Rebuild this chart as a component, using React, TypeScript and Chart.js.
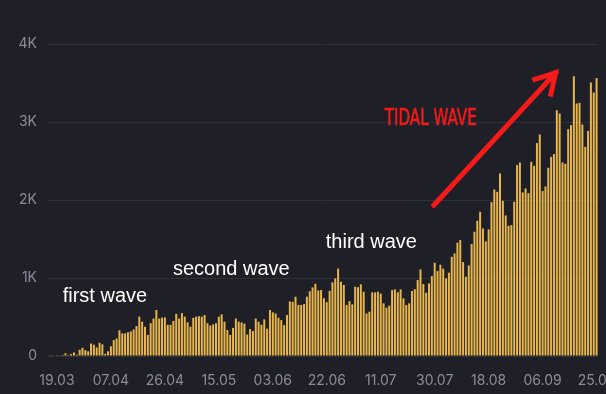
import React, { useEffect, useRef } from 'react';
import { Chart, registerables } from 'chart.js';

Chart.register(...registerables);

// ---------- data ----------
const firstDay = Date.UTC(2020, 2, 16); // 16.03

const dailyCases: number[] = [
  // 16.03 – 16.04
  5, 3, 6, 10, 8, 14, 35, 12, 25, 45, 18, 80, 105, 75, 60, 160, 145, 110, 170, 150, 28, 60, 125, 205, 225, 330, 290, 290, 305, 315, 340, 385,
  // 17.04 – 18.05
  505, 440, 375, 270, 420, 480, 590, 480, 490, 495, 400, 400, 450, 540, 480, 550, 505, 430, 375, 490, 505, 510, 505, 525, 420, 390, 405, 420, 505, 535, 440, 333,
  // 19.05 – 26.06
  270, 360, 480, 440, 430, 415, 275, 345, 320, 480, 440, 400, 470, 350, 590, 560, 545, 490, 460, 395, 525, 700, 695, 760, 655, 655, 665, 760, 830, 880, 925, 840, 845, 740, 690, 835, 945, 995, 1120,
  // 27.06 – 23.07
  952, 910, 653, 704, 662, 888, 880, 918, 824, 546, 568, 816, 816, 824, 800, 675, 619, 645, 845, 854, 816, 854, 739, 653, 675, 833, 856,
  // 24.07 – 24.08
  974, 1110, 922, 811, 931, 1025, 1196, 1089, 1170, 1119, 995, 1068, 1272, 1315, 1452, 1486, 1204, 1016, 1161, 1435, 1593, 1734, 1849, 1635, 1469, 1623, 1973, 2135, 2105, 2340, 1990, 1802,
  // 25.08 – 25.09
  1670, 1678, 1977, 2447, 2481, 2097, 2148, 2088, 2489, 2438, 2729, 2840, 2114, 2173, 2413, 2553, 2588, 3151, 3109, 2481, 2464, 2908, 2959, 3587, 3237, 3245, 2968, 2681, 2886, 3506, 3378, 3565,
];

const pad2 = (n: number) => String(n).padStart(2, '0');
const categories: string[] = dailyCases.map((_, i) => {
  const d = new Date(firstDay + i * 86400000);
  return pad2(d.getUTCDate()) + '.' + pad2(d.getUTCMonth() + 1);
});

const xTickLabels = ['19.03', '07.04', '26.04', '15.05', '03.06', '22.06', '11.07', '30.07', '18.08', '06.09', '25.09'];
const yTickValues = [0, 1000, 2000, 3000, 4000];
const yTickLabels = ['0', '1K', '2K', '3K', '4K'];

// annotations (placed in data coordinates: category index, value)
const waveTexts = ['first wave', 'second wave', 'third wave'];
const waveIndex = [19.9, 64.4, 113.7];
const waveValue = [692, 1037, 1383];

const tidalText = 'TIDAL WAVE';
const tidalIndex = 134.6;
const tidalValue = 2958;

const arrowFrom = { index: 135.7, value: 1934 };
const arrowTo = { index: 178.6, value: 3631 };

// ---------- styles ----------
const BG = '#1e1f27';
const GRID = '#2f3139';
const TICK = '#8a8d99';
const BAR = '#e9b64b';
const RED = '#f51a1a';

const annotationPlugin = {
  id: 'waveNotes',
  afterDatasetsDraw(chart: any) {
    const { ctx } = chart;
    const xs = chart.scales.x;
    const ys = chart.scales.y;
    ctx.save();

    // white wave labels
    ctx.fillStyle = '#ffffff';
    ctx.font = '20px "Liberation Sans", Arial, sans-serif';
    ctx.textAlign = 'center';
    ctx.textBaseline = 'alphabetic';
    waveTexts.forEach((t, i) => {
      ctx.fillText(t, xs.getPixelForValue(waveIndex[i]), ys.getPixelForValue(waveValue[i]));
    });

    // TIDAL WAVE
    ctx.save();
    ctx.font = '23px "DejaVu Sans Condensed", "Liberation Sans Narrow", sans-serif';
    const w = ctx.measureText(tidalText).width;
    ctx.translate(xs.getPixelForValue(tidalIndex), ys.getPixelForValue(tidalValue));
    ctx.scale(92 / w, 1);
    ctx.fillStyle = RED;
    ctx.strokeStyle = RED;
    ctx.lineWidth = 0.6;
    ctx.fillText(tidalText, 0, 0);
    ctx.strokeText(tidalText, 0, 0);
    ctx.restore();

    // arrow
    const x1 = xs.getPixelForValue(arrowFrom.index);
    const y1 = ys.getPixelForValue(arrowFrom.value);
    const x2 = xs.getPixelForValue(arrowTo.index);
    const y2 = ys.getPixelForValue(arrowTo.value);
    const ang = Math.atan2(y1 - y2, x1 - x2);
    const head = 22;
    const spread = 0.52;
    ctx.strokeStyle = RED;
    ctx.lineWidth = 5;
    ctx.lineCap = 'square';
    ctx.lineJoin = 'miter';
    ctx.beginPath();
    ctx.moveTo(x1, y1);
    ctx.lineTo(x2, y2);
    ctx.stroke();
    ctx.beginPath();
    ctx.moveTo(x2 + head * Math.cos(ang + spread), y2 + head * Math.sin(ang + spread));
    ctx.lineTo(x2, y2);
    ctx.lineTo(x2 + head * Math.cos(ang - spread), y2 + head * Math.sin(ang - spread));
    ctx.stroke();

    ctx.restore();
  },
};

export default function App() {
  const canvasRef = useRef<HTMLCanvasElement | null>(null);

  useEffect(() => {
    const canvas = canvasRef.current;
    if (!canvas) return;
    const chart = new Chart(canvas, {
      type: 'bar',
      data: {
        labels: categories,
        datasets: [
          {
            data: dailyCases,
            backgroundColor: BAR,
            borderWidth: 0,
            barPercentage: 0.7,
            categoryPercentage: 1,
          },
        ],
      },
      options: {
        responsive: false,
        animation: false,
        events: [],
        devicePixelRatio: 1,
        layout: { padding: { top: 44, right: 8, left: 0, bottom: 0 } },
        plugins: {
          legend: { display: false },
          tooltip: { enabled: false },
          title: { display: false },
        },
        scales: {
          x: {
            grid: { display: false, drawTicks: false },
            border: { display: false },
            ticks: {
              autoSkip: false,
              maxRotation: 0,
              minRotation: 0,
              padding: 16,
              color: TICK,
              font: { family: 'Inter, "Noto Sans", sans-serif', size: 14 },
              callback: (_v: any, i: number) => (xTickLabels.includes(categories[i]) ? categories[i] : ''),
            },
            afterFit: (s: any) => {
              s.height = 38;
              s.paddingLeft = 0;
              s.paddingRight = 0;
            },
          },
          y: {
            min: 0,
            max: 4000,
            grid: { color: GRID, lineWidth: 1, drawTicks: false },
            border: { display: false },
            afterBuildTicks: (s: any) => {
              s.ticks = yTickValues.map((v) => ({ value: v }));
            },
            ticks: {
              padding: 10,
              color: TICK,
              font: { family: 'Inter, "Noto Sans", sans-serif', size: 14 },
              callback: (v: any) => yTickLabels[yTickValues.indexOf(Number(v))],
            },
            afterFit: (s: any) => {
              s.width = 47;
              s.paddingTop = 0;
              s.paddingBottom = 0;
            },
          },
        },
      },
      plugins: [annotationPlugin],
    });
    return () => chart.destroy();
  }, []);

  return (
    <div style={{ position: 'fixed', left: 0, top: 0, width: 606, height: 394, background: BG }}>
      <canvas ref={canvasRef} width={606} height={394} style={{ display: 'block' }} />
    </div>
  );
}
